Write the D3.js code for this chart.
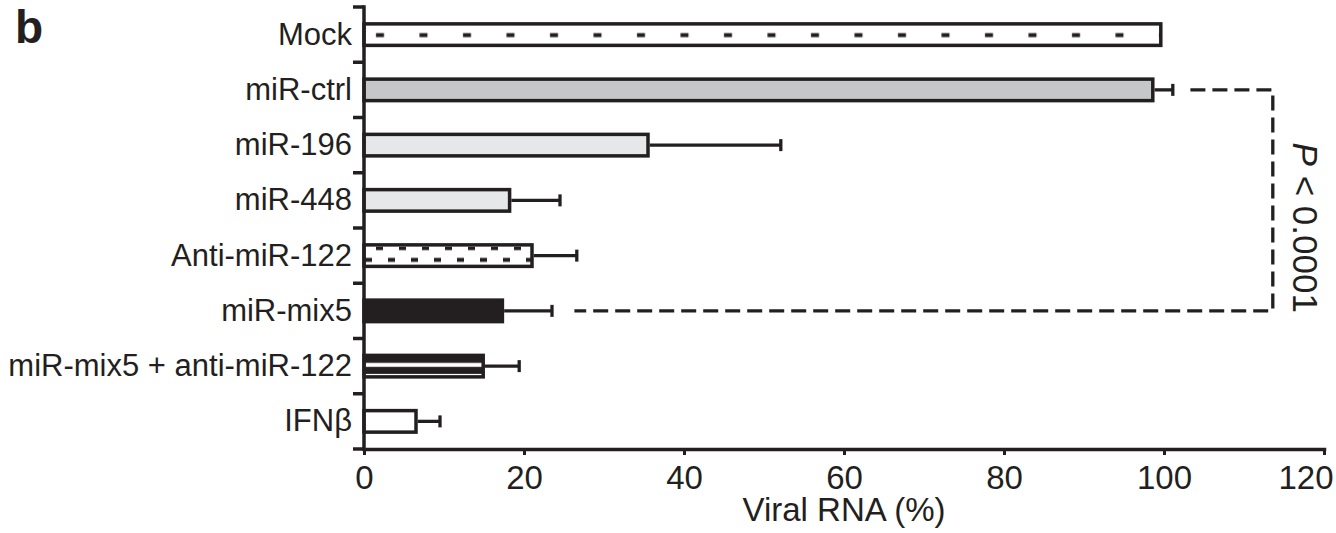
<!DOCTYPE html>
<html>
<head>
<meta charset="utf-8">
<script src="https://cdn.jsdelivr.net/npm/d3@7"></script>
<style>
  html, body { margin: 0; padding: 0; background: #fff; }
  svg { display: block; font-family: "Liberation Sans", Arial, Helvetica, sans-serif; }
</style>
</head>
<body>
<svg id="chart" width="1336" height="533"></svg>
<script>
// data (panel b)
const categories = ["Mock", "miR-ctrl", "miR-196", "miR-448", "Anti-miR-122", "miR-mix5", "miR-mix5 + anti-miR-122", "IFNβ"];
const viralRNA = [99.6, 98.6, 35.5, 18.2, 21.0, 17.3, 14.9, 6.5];
const errors = [0, 2.5, 16.6, 6.3, 5.6, 6.2, 4.5, 3.0];
const xTicks = [0, 20, 40, 60, 80, 100, 120];
const bracketPair = ["miR-ctrl", "miR-mix5"];
const bracketX = 113.6;
const bracketLabel = ["P", " < 0.0001"];

const ink = "#231f20";
// fill style per bar
const fillStyle = {
	"Mock": "url(#patMock)",
	"miR-ctrl": "#c6c7c8",
	"miR-196": "#e6e7e8",
	"miR-448": "#e6e7e8",
	"Anti-miR-122": "url(#patAnti)",
	"miR-mix5": ink,
	"miR-mix5 + anti-miR-122": "url(#patStripe)",
	"IFNβ": "#fff"
};

const svg = d3.select("#chart");
const x = d3.scaleLinear().domain([0, 120]).range([364, 1324]);
const y = d3.scaleBand().domain(categories).range([7, 449]);
const barH = 21.5;
const barStroke = 3.5;
const barTop = c => y(c) + (y.bandwidth() - barH) / 2;
const mid = c => y(c) + y.bandwidth() / 2;

const data = categories.map((c, i) => ({ cat: c, v: viralRNA[i], e: errors[i] }));

// patterns
const defs = svg.append("defs");
const pMock = defs.append("pattern").attr("id", "patMock").attr("patternUnits", "userSpaceOnUse")
	.attr("x", x(0)).attr("y", barTop("Mock")).attr("width", 43.5).attr("height", barH);
pMock.append("rect").attr("width", 43.5).attr("height", barH).attr("fill", "#fff");
pMock.append("rect").attr("x", 12).attr("y", barH / 2 - 1.5).attr("width", 8).attr("height", 4).attr("fill", ink);

const pAnti = defs.append("pattern").attr("id", "patAnti").attr("patternUnits", "userSpaceOnUse")
	.attr("x", x(0)).attr("y", barTop("Anti-miR-122")).attr("width", 23).attr("height", barH);
pAnti.append("rect").attr("width", 23).attr("height", barH).attr("fill", "#fff");
pAnti.append("rect").attr("x", 12).attr("y", 1.75).attr("width", 7).attr("height", 3.5).attr("fill", ink);
pAnti.append("rect").attr("x", 1).attr("y", 13).attr("width", 7).attr("height", 4).attr("fill", ink);

const pStripe = defs.append("pattern").attr("id", "patStripe").attr("patternUnits", "userSpaceOnUse")
	.attr("x", x(0)).attr("y", barTop("miR-mix5 + anti-miR-122")).attr("width", 1000).attr("height", barH);
pStripe.append("rect").attr("width", 1000).attr("height", barH).attr("fill", "#fff");
pStripe.append("rect").attr("y", 0).attr("width", 1000).attr("height", 7.5).attr("fill", ink);
pStripe.append("rect").attr("y", 11.5).attr("width", 1000).attr("height", 7).attr("fill", ink);

// bars
svg.append("g").selectAll("rect").data(data).enter().append("rect")
	.attr("x", x(0))
	.attr("y", d => barTop(d.cat))
	.attr("width", d => x(d.v) - x(0))
	.attr("height", barH)
	.attr("fill", d => fillStyle[d.cat])
	.attr("stroke", ink)
	.attr("stroke-width", barStroke);

// error bars
const eb = svg.append("g").attr("stroke", ink).attr("stroke-width", 3.3);
const withErr = data.filter(d => d.e > 0);
eb.selectAll("line.stem").data(withErr).enter().append("line").attr("class", "stem")
	.attr("x1", d => x(d.v) + barStroke / 2).attr("x2", d => x(d.v + d.e))
	.attr("y1", d => mid(d.cat)).attr("y2", d => mid(d.cat));
eb.selectAll("line.cap").data(withErr).enter().append("line").attr("class", "cap")
	.attr("x1", d => x(d.v + d.e)).attr("x2", d => x(d.v + d.e))
	.attr("y1", d => mid(d.cat) - 6).attr("y2", d => mid(d.cat) + 6);

// y axis: labels at band centres, ticks at band boundaries
const yAxis = svg.append("g").attr("transform", `translate(${x(0)},0)`)
	.call(d3.axisLeft(y).tickSize(0).tickPadding(12));
yAxis.select(".domain").remove();
yAxis.selectAll(".tick text").attr("font-size", 31).attr("fill", ink)
	.attr("font-family", "'Liberation Sans', Arial, sans-serif");

const bounds = categories.map(c => y(c)).concat([y.range()[1]]);
svg.append("g").selectAll("line").data(bounds).enter().append("line")
	.attr("x1", x(0) - 11).attr("x2", x(0)).attr("y1", d => d).attr("y2", d => d)
	.attr("stroke", ink).attr("stroke-width", 3.5);
svg.append("line").attr("x1", x(0)).attr("x2", x(0))
	.attr("y1", y.range()[0]).attr("y2", y.range()[1])
	.attr("stroke", ink).attr("stroke-width", 3.5).attr("stroke-linecap", "square");

// x axis
const xAxis = svg.append("g").attr("transform", `translate(0,${y.range()[1]})`)
	.call(d3.axisBottom(x).tickValues(xTicks).tickSize(6).tickSizeOuter(0).tickPadding(11));
xAxis.select(".domain").attr("stroke", ink).attr("stroke-width", 3.5).attr("stroke-linecap", "square");
xAxis.selectAll(".tick line").attr("stroke", ink).attr("stroke-width", 3);
xAxis.selectAll(".tick text").attr("font-size", 33).attr("fill", ink)
	.attr("font-family", "'Liberation Sans', Arial, sans-serif");
// last label sits flush with the right edge, as in the figure
xAxis.selectAll(".tick text").filter(d => d === xTicks[xTicks.length - 1])
	.attr("text-anchor", "end").attr("x", 9);

svg.append("text")
	.attr("x", (x(0) + x(120)) / 2).attr("y", 521)
	.attr("text-anchor", "middle").attr("font-size", 33).attr("fill", ink)
	.text("Viral RNA (%)");

// significance bracket
const a = data.find(d => d.cat === bracketPair[0]);
const b = data.find(d => d.cat === bracketPair[1]);
const bracket = d3.path();
bracket.moveTo(x(a.v + a.e + 2.2), mid(a.cat));
bracket.lineTo(x(bracketX), mid(a.cat));
bracket.lineTo(x(bracketX), mid(b.cat));
bracket.lineTo(x(b.v + b.e + 2.8), mid(b.cat));
svg.append("path").attr("d", bracket.toString())
	.attr("fill", "none").attr("stroke", ink).attr("stroke-width", 3.3)
	.attr("stroke-dasharray", "15,7");

const pText = svg.append("text")
	.attr("transform", `translate(${x(bracketX) + 20},${mid(b.cat) + 2}) rotate(90)`)
	.attr("text-anchor", "end").attr("font-size", 35).attr("fill", ink);
pText.append("tspan").attr("font-style", "italic").text(bracketLabel[0]);
pText.append("tspan").text(bracketLabel[1]);

// panel letter
svg.append("text").attr("x", 15).attr("y", 43)
	.attr("font-size", 46).attr("font-weight", "bold").attr("fill", ink)
	.text("b");
</script>
</body>
</html>
